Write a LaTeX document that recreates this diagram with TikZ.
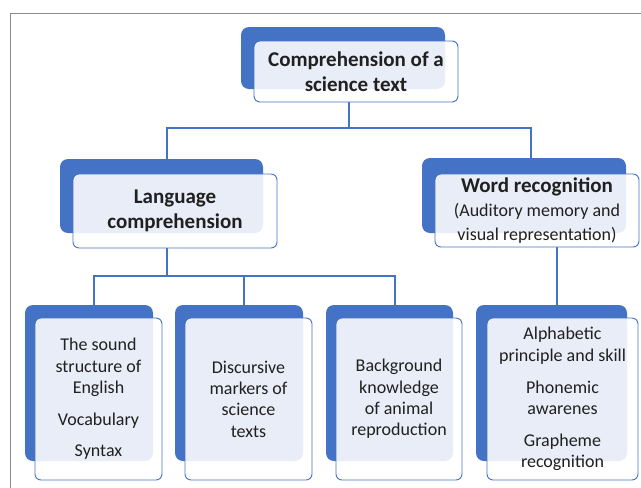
\documentclass[tikz,border=0pt]{standalone}
\usepackage{fontspec}
\setmainfont{Carlito}
\usetikzlibrary{calc}
\definecolor{sablue}{HTML}{4472C4}
\definecolor{txt}{HTML}{202020}
\definecolor{frame}{HTML}{8C8C8C}
\tikzset{
  backbox/.style={fill=sablue, draw=none, rounded corners=8pt, inner sep=0pt},
  frontbox/.style={draw=sablue, line width=0.9pt, fill=white, fill opacity=0.88, text opacity=1,
    rounded corners=6pt, inner sep=0pt, align=center, text=txt},
  bigtxt/.style={font=\bfseries\fontsize{21}{25}\selectfont},
  smalltxt/.style={font=\fontsize{18}{21.3}\selectfont},
  conn/.style={draw=sablue, line width=2pt},
}
\begin{document}
\begin{tikzpicture}[x=1pt, y=-1pt]
\useasboundingbox (0,0) rectangle (641,488);
\draw[frame, line width=0.9pt] (10,488) -- (10,13) -- (641,13);

% back shapes
\node[backbox, minimum width=204pt, minimum height=62pt] (top-b) at (343,58) {};
\node[backbox, minimum width=203pt, minimum height=74pt] (lang-b) at (161.5,196) {};
\node[backbox, minimum width=204pt, minimum height=75pt] (word-b) at (524,195.5) {};
\node[backbox, minimum width=128pt, minimum height=156pt] (b1-b) at (89,383) {};
\node[backbox, minimum width=128pt, minimum height=156pt] (b2-b) at (239,383) {};
\node[backbox, minimum width=127pt, minimum height=156pt] (b3-b) at (389.5,383) {};
\node[backbox, minimum width=151pt, minimum height=156pt] (b4-b) at (551.5,383) {};

% junction coordinates
\coordinate (j1) at (349,128);
\coordinate (j2) at (167,276);
\coordinate (j3) at (557,247);

% connectors
\draw[conn] (j1 |- top-b.south) ++(0,13) -- (j1);
\draw[conn] ([xshift=5.5pt]lang-b.north) |- (j1) -| ([xshift=7pt]word-b.north);
\draw[conn] (j2 |- lang-b.south) ++(0,15) -- (j2);
\draw[conn] ([xshift=5pt]b1-b.north) |- (j2) -| ([xshift=5pt]b3-b.north);
\draw[conn] ([xshift=5pt]b2-b.north) -- ++(0,-29);
\draw[conn] (j3) -- (j3 |- b4-b.north);

% front shapes with text
\node[frontbox, bigtxt, minimum width=204pt, minimum height=61pt] (top) at (356,71.5)
  {Comprehension of a\\science text};
\node[frontbox, bigtxt, minimum width=204pt, minimum height=74pt] (lang) at (175,211)
  {Language\\comprehension};
\node[frontbox, minimum width=204pt, minimum height=73pt, font=\fontsize{18}{24}\selectfont] (word) at (537,210.5)
  {{\bfseries\fontsize{21}{24}\selectfont Word recognition}\\(Auditory memory and\\visual representation)};
\node[frontbox, smalltxt, minimum width=127pt, minimum height=162pt] (b1) at (98.5,399)
  {The sound\\structure of\\English\\[10.5pt]Vocabulary\\[10.5pt]Syntax};
\node[frontbox, smalltxt, minimum width=127pt, minimum height=162pt] (b2) at (248.5,399)
  {Discursive\\markers of\\science\\texts};
\node[frontbox, smalltxt, minimum width=126pt, minimum height=162pt] (b3) at (399,399)
  {Background\\knowledge\\of animal\\reproduction};
\node[frontbox, smalltxt, minimum width=151pt, minimum height=162pt] (b4) at (562.5,399)
  {Alphabetic\\principle and skill\\[10.5pt]Phonemic\\awarenes\\[10.5pt]Grapheme\\recognition};
\end{tikzpicture}
\end{document}
